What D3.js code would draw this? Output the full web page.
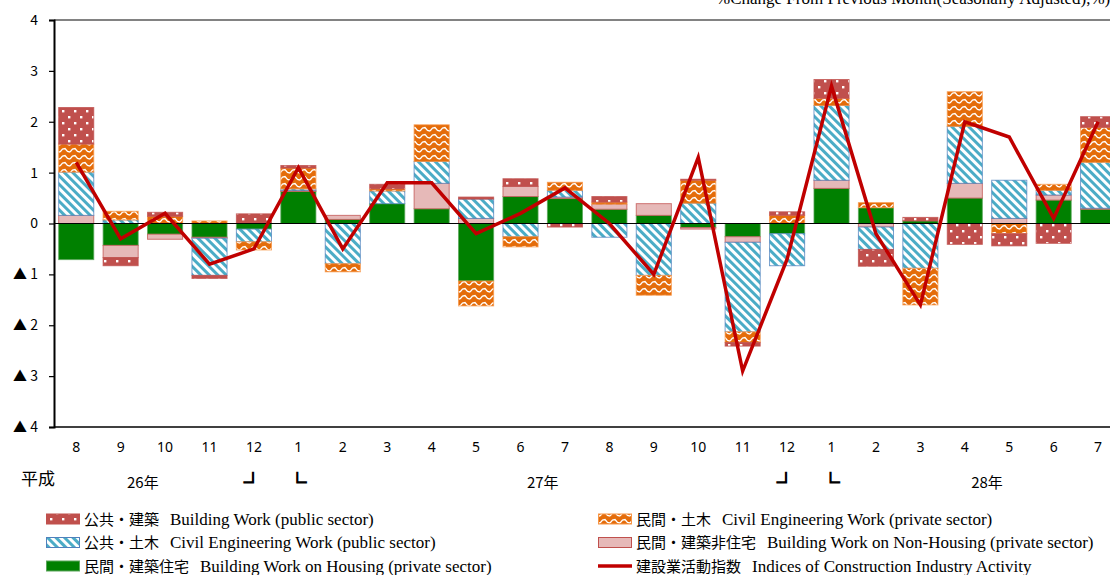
<!DOCTYPE html>
<html><head><meta charset="utf-8">
<script src="https://cdn.jsdelivr.net/npm/d3@7"></script>
<style>body{margin:0;background:#fff;overflow:hidden} svg{display:block}</style>
</head><body><svg id="c" width="1110" height="575"></svg>
<script>
// ---- data ----
const months = ["8","9","10","11","12","1","2","3","4","5","6","7","8","9","10","11","12","1","2","3","4","5","6","7"];
const housing        = [-0.71,-0.43,-0.21,-0.27,-0.11, 0.63, 0.08, 0.39, 0.29,-1.13, 0.53, 0.49, 0.28, 0.16,-0.08,-0.26,-0.20, 0.69, 0.31, 0.05, 0.50, 0.00, 0.46, 0.28];
const nonHousing     = [ 0.16,-0.24,-0.10,-0.02, 0.00, 0.02, 0.08, 0.00, 0.50, 0.10, 0.20, 0.03, 0.10, 0.23,-0.03,-0.11, 0.00, 0.16,-0.07, 0.00, 0.29, 0.10, 0.10, 0.02];
const civilPublic    = [ 0.85, 0.07, 0.00,-0.73,-0.25, 0.03,-0.79, 0.25, 0.43, 0.38,-0.26, 0.13,-0.27,-1.02, 0.40,-1.76,-0.63, 1.47,-0.44,-0.88, 1.12, 0.75, 0.09, 0.90];
const civilPrivate   = [ 0.55, 0.17, 0.14, 0.05,-0.16, 0.41,-0.16, 0.04, 0.72,-0.49,-0.20, 0.16, 0.04,-0.39, 0.45,-0.21, 0.16, 0.14, 0.10,-0.72, 0.68,-0.20, 0.12, 0.69];
const buildingPublic = [ 0.72,-0.16, 0.08,-0.06, 0.19, 0.05, 0.00, 0.09, 0.00, 0.04, 0.15,-0.07, 0.11, 0.00, 0.02,-0.07, 0.07, 0.37,-0.33, 0.07,-0.41,-0.24,-0.39, 0.21];
const activityIndex  = [ 1.2, -0.3, 0.2, -0.8, -0.5, 1.1, -0.5, 0.8, 0.8, -0.2, 0.2, 0.7, 0.0, -1.0, 1.3, -2.9, -0.7, 2.7, -0.2, -1.6, 2.0, 1.7, 0.1, 2.0];
const yTicks = [4,3,2,1,0,-1,-2,-3,-4];
const eraLabel = "平成";
const yearLabels = ["26年","27年","28年"];
const yearAfterIndex = [1,10,20];          // label sits between this month and the next
const bracketEnd = "┘", bracketStart = "└";
const bracketIndex = [[4,5],[16,17]];
const unitLabel = "%Change From Previous Month(Seasonally Adjusted),%)";
const seriesKeys = ["housing","nonHousing","civilPublic","civilPrivate","buildingPublic"];
const legendJa = ["公共・建築","民間・土木","公共・土木","民間・建築非住宅","民間・建築住宅","建設業活動指数"];
const legendEn = ["Building Work (public sector)","Civil Engineering Work (private sector)","Civil Engineering Work (public sector)","Building Work on Non-Housing (private sector)","Building Work on Housing (private sector)","Indices of Construction Industry Activity"];
const legendKey = ["buildingPublic","civilPrivate","civilPublic","nonHousing","housing","line"];

// ---- layout ----
const svg = d3.select("#c");
const plotLeft = 54, plotTop = 20, plotBottom = 427, step = 44.43;
const x = d3.scaleBand().domain(d3.range(months.length)).range([plotLeft, plotLeft + step*months.length]).paddingInner(0.21).paddingOuter(0.105);
const y = d3.scaleLinear().domain([-4,4]).range([plotBottom, plotTop]);

// ---- patterns ----
const defs = svg.append("defs");
const pr = defs.append("pattern").attr("id","pRed").attr("patternUnits","userSpaceOnUse").attr("width",12).attr("height",12);
pr.append("rect").attr("width",12).attr("height",12).attr("fill","#C0504D");
pr.append("rect").attr("x",2).attr("y",2).attr("width",2.4).attr("height",2.4).attr("fill","#fff");
pr.append("rect").attr("x",8).attr("y",8).attr("width",2.4).attr("height",2.4).attr("fill","#fff");
const po = defs.append("pattern").attr("id","pOrange").attr("patternUnits","userSpaceOnUse").attr("width",10).attr("height",7);
po.append("rect").attr("width",10).attr("height",7).attr("fill","#E46C0A");
po.append("path").attr("d","M0,5 L2.5,2 L5,1.5 L7.5,4.5 L10,5").attr("fill","none").attr("stroke","#fff").attr("stroke-width",1.3);
const pb = defs.append("pattern").attr("id","pBlue").attr("patternUnits","userSpaceOnUse").attr("width",6).attr("height",6).attr("patternTransform","rotate(-45)");
pb.append("rect").attr("width",6).attr("height",6).attr("fill","#fff");
pb.append("rect").attr("width",3).attr("height",6).attr("fill","#4BACC6");

const style = {
  housing:       {fill:"#008000", stroke:"#5aa55a"},
  nonHousing:    {fill:"#E6B9B8", stroke:"#C0504D"},
  civilPublic:   {fill:"url(#pBlue)", stroke:"#4F81BD"},
  civilPrivate:  {fill:"url(#pOrange)", stroke:"#F79646"},
  buildingPublic:{fill:"url(#pRed)", stroke:"#C0504D"}
};

// ---- bars ----
const rows = months.map((m,i)=>({i, housing:housing[i], nonHousing:nonHousing[i], civilPublic:civilPublic[i], civilPrivate:civilPrivate[i], buildingPublic:buildingPublic[i]}));
const stacked = d3.stack().keys(seriesKeys).offset(d3.stackOffsetDiverging)(rows);
svg.append("g").selectAll("g").data(stacked).join("g")
  .attr("fill", s=>style[s.key].fill).attr("stroke", s=>style[s.key].stroke).attr("stroke-width",1).attr("stroke-opacity",0.75)
  .selectAll("rect").data(s=>s.filter(d=>d[1]!==d[0])).join("rect")
  .attr("x", d=>x(d.data.i)).attr("width", x.bandwidth())
  .attr("y", d=>y(Math.max(d[0],d[1]))).attr("height", d=>Math.abs(y(d[0])-y(d[1])));

// ---- frame / axes ----
svg.append("line").attr("x1",plotLeft).attr("x2",1110).attr("y1",plotTop).attr("y2",plotTop).attr("stroke","#595959").attr("stroke-width",1.5);
svg.append("line").attr("x1",plotLeft).attr("x2",1110).attr("y1",plotBottom).attr("y2",plotBottom).attr("stroke","#000").attr("stroke-width",1.5);
svg.append("line").attr("x1",plotLeft).attr("x2",1110).attr("y1",y(0)).attr("y2",y(0)).attr("stroke","#000").attr("stroke-width",1);

const ya = svg.append("g").attr("transform",`translate(${plotLeft},0)`)
  .call(d3.axisLeft(y).tickValues(yTicks).tickSize(5).tickPadding(11).tickFormat(v=> v<0 ? "▲ "+(-v) : String(v)));
ya.select(".domain").attr("stroke","#000").attr("stroke-width",2);
ya.selectAll(".tick line").attr("stroke","#000").attr("stroke-width",1.2);
ya.selectAll("text").attr("font-family","'Noto Sans CJK JP','Noto Sans',sans-serif").attr("font-size",14).attr("fill","#000");

const xa = svg.append("g").attr("transform",`translate(0,${plotBottom})`)
  .call(d3.axisBottom(x).tickSize(0).tickPadding(15).tickFormat(i=>months[i]));
xa.select(".domain").remove();
xa.selectAll("text").attr("font-family","'Noto Sans','Noto Sans CJK JP',sans-serif").attr("font-size",14).attr("fill","#000");

// ---- index line ----
const line = d3.line().x((v,i)=>x(i)+x.bandwidth()/2).y(v=>y(v));
svg.append("path").datum(activityIndex).attr("d",line).attr("fill","none").attr("stroke","#C00000").attr("stroke-width",3.5).attr("stroke-linejoin","miter");

// ---- era/year labels ----
const jaFont = "'Noto Sans CJK JP',sans-serif";
svg.append("text").attr("x",21).attr("y",485).attr("font-family",jaFont).attr("font-size",17).text(eraLabel);
const cx = i => x(i)+x.bandwidth()/2;
svg.append("g").selectAll("text").data(yearLabels).join("text")
  .attr("x",(d,k)=>(cx(yearAfterIndex[k])+cx(yearAfterIndex[k]+1))/2).attr("y",488)
  .attr("text-anchor","middle").attr("font-family",jaFont).attr("font-size",15).text(d=>d);
bracketIndex.forEach(([a,b])=>{
  [[bracketEnd,cx(a)-1],[bracketStart,cx(b)-1]].forEach(([ch,px])=>{
    svg.append("text").attr("x",px).attr("y",489).attr("text-anchor","middle").attr("font-family",jaFont)
      .attr("font-size",18).attr("font-weight","bold").attr("stroke","#000").attr("stroke-width",1.4).text(ch);
  });
});

// ---- unit label ----
svg.append("text").attr("x",716).attr("y",4).attr("font-family","'Liberation Serif','Times New Roman',serif").attr("font-size",17).text(unitLabel);

// ---- legend ----
const lg = svg.append("g");
legendJa.forEach((ja,k)=>{
  const col = k%2, row = Math.floor(k/2);
  const sx = col ? 598 : 46, cy = 519 + row*23.5;
  const key = legendKey[k];
  if (key==="line") {
    lg.append("line").attr("x1",sx).attr("x2",sx+34).attr("y1",cy).attr("y2",cy).attr("stroke","#C00000").attr("stroke-width",3.5);
  } else {
    lg.append("rect").attr("x",sx+0.5).attr("y",cy-5).attr("width",33).attr("height",10)
      .attr("fill",style[key].fill).attr("stroke",style[key].stroke).attr("stroke-width",1);
  }
  const t = lg.append("text").attr("x",sx+38).attr("y",cy+5.5);
  t.append("tspan").attr("font-family",jaFont).attr("font-size",15).text(ja);
  t.append("tspan").attr("dx",11).attr("font-family","'Liberation Serif','Times New Roman',serif").attr("font-size",17).text(legendEn[k]);
});
</script></body></html>
